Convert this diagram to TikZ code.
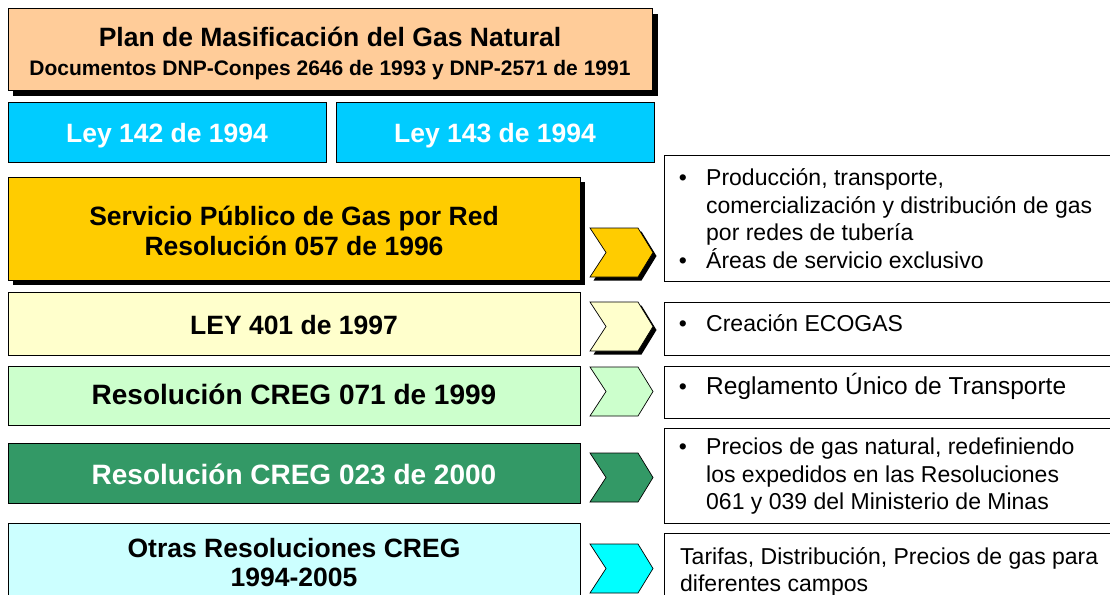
\documentclass[tikz,border=0pt]{standalone}
\usepackage{fontspec}
\setmainfont{Liberation Sans}
\definecolor{cOrange}{HTML}{FFCC99}
\definecolor{cCyan}{HTML}{00CCFF}
\definecolor{cGold}{HTML}{FFCC00}
\definecolor{cLYellow}{HTML}{FFFFCC}
\definecolor{cLGreen}{HTML}{CCFFCC}
\definecolor{cSea}{HTML}{339966}
\definecolor{cLCyan}{HTML}{CCFFFF}
\definecolor{cAqua}{HTML}{00FFFF}
\tikzset{
  box/.style={draw=black, line width=0.8pt},
  shadowbox/.style={fill=black, draw=none},
  info/.style={draw=black, line width=0.7pt, fill=white},
  chev/.style={draw=black, line width=0.7pt},
  bt/.style={font=\bfseries\fontsize{28}{30}\selectfont, anchor=base, inner sep=0pt},
  bts/.style={font=\bfseries\fontsize{26.5}{30}\selectfont, anchor=base, inner sep=0pt},
  it/.style={font=\fontsize{23}{27}\selectfont, anchor=base west, inner sep=0pt},
  bul/.style={font=\fontsize{23}{27}\selectfont, anchor=base, inner sep=0pt},
}
\newcommand{\chevpath}[4]{% x, y(top), color, name
  \draw[chev, fill=#3] (#1,#2) coordinate (#4) -- ++(48,0) -- ++(15,24.5) -- ++(-15,24.5) -- ++(-48,0) -- ++(16,-24.5) -- cycle;}
\newcommand{\chevshadow}[2]{%
  \fill[black] (#1+3.5,#2+3.5) -- ++(48,0) -- ++(15,24.5) -- ++(-15,24.5) -- ++(-48,0) -- ++(16,-24.5) -- cycle;}
\begin{document}
\begin{tikzpicture}[x=1pt,y=-1pt]
\useasboundingbox (0,0) rectangle (1110,594);
\clip (0,0) rectangle (1110,594);
\fill[white] (0,0) rectangle (1110,594);
% top plan box
\fill[shadowbox] (13,14) rectangle (658,96);
\draw[box, fill=cOrange] (8,8) rectangle (652,90);
\node[bts, font=\bfseries\fontsize{26.5}{30}\selectfont] (plan) at (330,47) {Plan de Masificación del Gas Natural};
\node[bts, font=\bfseries\fontsize{21}{24}\selectfont] (docs) at (330,75) {Documentos DNP-Conpes 2646 de 1993 y DNP-2571 de 1991};
% Ley boxes
\draw[box, fill=cCyan] (8,102) rectangle (326,162);
\node[bts, text=white] (ley142) at (167,142) {Ley 142 de 1994};
\draw[box, fill=cCyan] (336,102) rectangle (654,162);
\node[bts, text=white] (ley143) at (495,142) {Ley 143 de 1994};
% Servicio publico
\fill[shadowbox] (13,182) rectangle (585,285);
\draw[box, fill=cGold] (8,177) rectangle (580,280);
\node[bts] (serv1) at (294,225) {Servicio Público de Gas por Red};
\node[bts] (serv2) at (294,255) {Resolución 057 de 1996};
% LEY 401
\draw[box, fill=cLYellow] (8,292) rectangle (580,355);
\node[bts] (ley401) at (294,334) {LEY 401 de 1997};
% CREG 071
\draw[box, fill=cLGreen] (8,366) rectangle (580,425);
\node[bt] (r071) at (294,404) {Resolución CREG 071 de 1999};
% CREG 023
\draw[box, fill=cSea] (8,443) rectangle (580,503);
\node[bt, text=white] (r023) at (294,484) {Resolución CREG 023 de 2000};
% Otras
\draw[box, fill=cLCyan] (8,523) rectangle (580,600);
\node[bts] (otras1) at (294,557) {Otras Resoluciones CREG};
\node[bts] (otras2) at (294,586) {1994-2005};
% chevrons
\chevshadow{590}{228}
\chevpath{590}{228}{cGold}{ch1}
\chevshadow{590}{302}
\chevpath{590}{302}{cLYellow}{ch2}
\chevpath{590}{367}{cLGreen}{ch3}
\chevpath{590}{453}{cSea}{ch4}
\chevpath{590}{544}{cAqua}{ch5}
% info boxes
\draw[info] (664,155) rectangle (1120,281);
\node[bul] (b1) at (683,185) {\textbullet};
\node[it] (t1a) at (706,185) {Producción, transporte,};
\node[it] (t1b) at (706,213) {comercialización y distribución de gas};
\node[it] (t1c) at (706,240) {por redes de tubería};
\node[bul] (b2) at (683,268) {\textbullet};
\node[it] (t1d) at (706,268) {Áreas de servicio exclusivo};
\draw[info] (664,302) rectangle (1120,355);
\node[bul] (b3) at (683,331) {\textbullet};
\node[it] (t2) at (706,331) {Creación ECOGAS};
\draw[info] (664,366) rectangle (1120,418);
\node[bul] (b4) at (683,394) {\textbullet};
\node[it, font=\fontsize{24.5}{27}\selectfont] (t3) at (706,394) {Reglamento Único de Transporte};
\draw[info] (664,428) rectangle (1120,523);
\node[bul] (b5) at (683,454) {\textbullet};
\node[it] (t4a) at (706,454) {Precios de gas natural, redefiniendo};
\node[it] (t4b) at (706,482) {los expedidos en las Resoluciones};
\node[it] (t4c) at (706,509) {061 y 039 del Ministerio de Minas};
\draw[info] (664,533) rectangle (1120,610);
\node[it] (t5a) at (680,564) {Tarifas, Distribución, Precios de gas para};
\node[it] (t5b) at (680,591) {diferentes campos};
\end{tikzpicture}
\end{document}
